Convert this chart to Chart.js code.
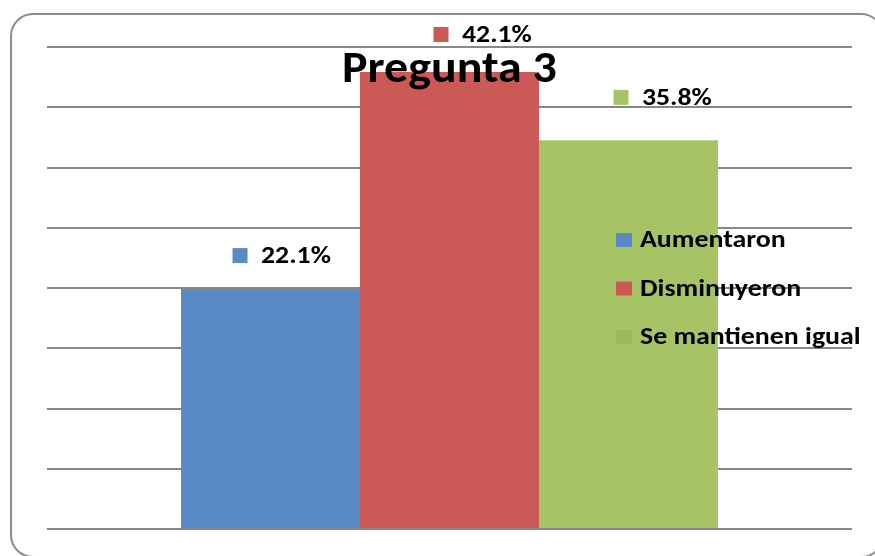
<!DOCTYPE html>
<html>
<head>
<meta charset="utf-8">
<script src="https://cdn.jsdelivr.net/npm/chart.js@4.4.1/dist/chart.umd.min.js"></script>
<style>
  html, body { margin: 0; padding: 0; background: #ffffff; }
  #c { display: block; }
</style>
</head>
<body>
<canvas id="c" width="875" height="556"></canvas>
<script>
// ---- data ----
const chartTitle = 'Pregunta 3';
const categories = ['Aumentaron', 'Disminuyeron', 'Se mantienen igual'];
const values = [22.1, 42.1, 35.8];
const axisMin = 0;
const axisMax = 44.4;
const gridLineCount = 9;

// ---- styles ----
const barColors = ['#5a8ac6', '#cb5a57', '#a6c465'];
const legendColors = ['#5a8ac6', '#cb5a57', '#9bbb59'];
const FONT = 'Carlito, Lato, "Liberation Sans", sans-serif';
// label placement (square centre relative to bar top-centre)
const labelOffsets = [[-30.5, -33.5], [-8.5, -37.5], [-7.5, -43]];

const datasets = categories.map((name, i) => ({
  label: name,
  data: [values[i]],
  backgroundColor: barColors[i],
  borderWidth: 0,
  categoryPercentage: 0.667,
  barPercentage: 1.0
}));

function stretchedText(ctx, text, x, y, font, sx, align, baseline) {
  ctx.save();
  ctx.font = font;
  ctx.textAlign = align;
  ctx.textBaseline = baseline;
  ctx.fillStyle = '#000000';
  ctx.translate(x, y);
  ctx.scale(sx, 1);
  ctx.fillText(text, 0, 0);
  ctx.restore();
}

const framePlugin = {
  id: 'frame',
  beforeDraw(chart) {
    const ctx = chart.ctx;
    ctx.save();
    ctx.fillStyle = '#ffffff';
    ctx.fillRect(0, 0, chart.width, chart.height);
    ctx.strokeStyle = '#8c8c8c';
    ctx.lineWidth = 2;
    ctx.beginPath();
    ctx.roundRect(11, 14, 872, 543, 22);
    ctx.stroke();
    ctx.restore();
  }
};

const overlayPlugin = {
  id: 'overlay',
  afterDatasetsDraw(chart) {
    const ctx = chart.ctx;
    const area = chart.chartArea;
    ctx.save();
    // data labels
    chart.data.datasets.forEach((ds, i) => {
      const bar = chart.getDatasetMeta(i).data[0];
      const cx = bar.x + labelOffsets[i][0];
      const cy = bar.y + labelOffsets[i][1];
      ctx.fillStyle = barColors[i];
      ctx.fillRect(cx - 7.5, cy - 7.5, 15, 15);
      stretchedText(ctx, ds.data[0].toFixed(1) + '%', cx + 21, cy + 1,
        'bold 25px ' + FONT, 1.11, 'left', 'middle');
    });
    // legend
    chart.data.datasets.forEach((ds, i) => {
      const sx = area.left + 569;
      const cy = area.top + 193 + i * 48.5;
      ctx.fillStyle = legendColors[i];
      ctx.fillRect(sx, cy - 7, 16, 14);
      stretchedText(ctx, ds.label, sx + 24, cy + 1,
        'bold 24px ' + FONT, 1.16, 'left', 'middle');
    });
    // title
    stretchedText(ctx, chartTitle, (area.left + area.right) / 2, 82,
      'bold 45px ' + FONT, 1.065, 'center', 'alphabetic');
    ctx.restore();
  }
};

new Chart(document.getElementById('c'), {
  type: 'bar',
  data: { labels: [chartTitle], datasets },
  options: {
    responsive: false,
    animation: false,
    devicePixelRatio: 1,
    layout: { padding: { left: 47, right: 23, top: 47, bottom: 27 } },
    plugins: {
      legend: { display: false },
      title: { display: false },
      tooltip: { enabled: false }
    },
    scales: {
      x: { display: false },
      y: {
        min: axisMin,
        max: axisMax,
        ticks: { display: false, count: gridLineCount },
        border: { display: false },
        grid: { color: '#888888', lineWidth: 2, drawTicks: false }
      }
    }
  },
  plugins: [framePlugin, overlayPlugin]
});
</script>
</body>
</html>
